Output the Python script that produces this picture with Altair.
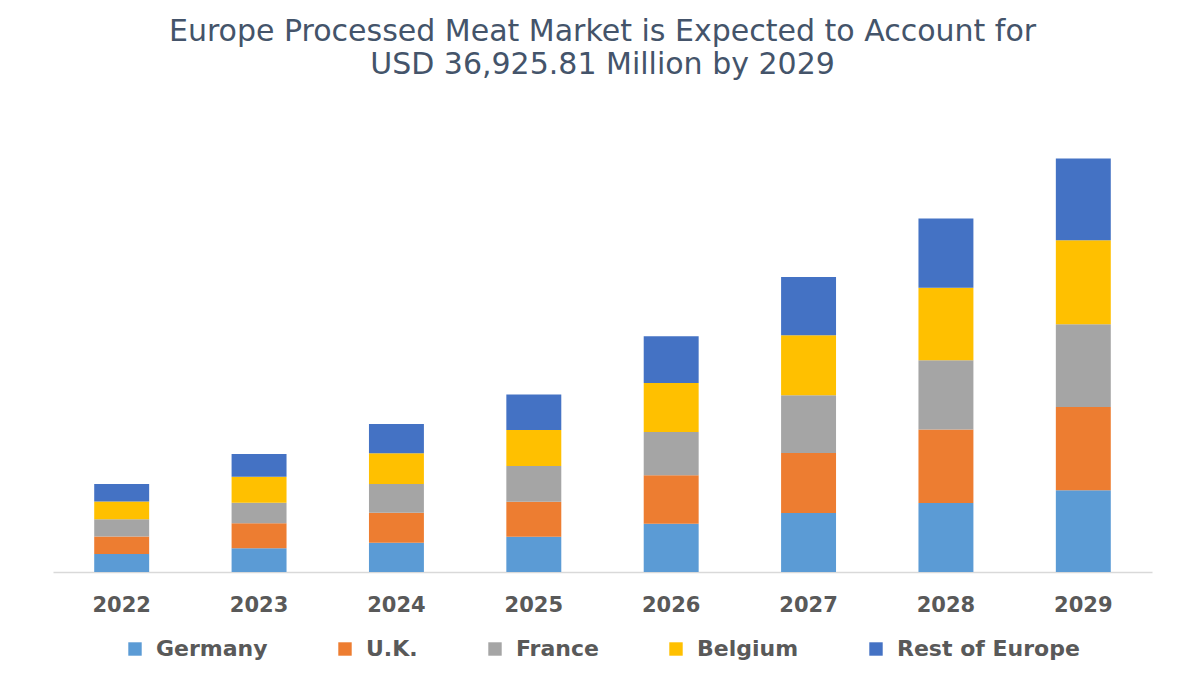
import altair as alt
import pandas as pd

years = ["2022", "2023", "2024", "2025", "2026", "2027", "2028", "2029"]
regions = ["Germany", "U.K.", "France", "Belgium", "Rest of Europe"]
germany = [1610, 2115, 2620, 3155, 4315, 5270, 6165, 7295]
uk = [1550, 2235, 2680, 3125, 4315, 5360, 6555, 7440]
france = [1555, 1840, 2565, 3190, 3870, 5155, 6190, 7385]
belgium = [1570, 2320, 2740, 3215, 4375, 5360, 6460, 7505]
rest_of_europe = [1580, 2030, 2615, 3155, 4170, 5205, 6200, 7300]
colors = ["#5B9BD5", "#ED7D31", "#A5A5A5", "#FFC000", "#4472C4"]

series = [germany, uk, france, belgium, rest_of_europe]
rows = []
for i, (name, vals) in enumerate(zip(regions, series)):
    for y, v in zip(years, vals):
        rows.append({"year": y, "region": name, "value": v, "idx": i})
df = pd.DataFrame(rows)

chart = alt.Chart(df).mark_bar().encode(
    x=alt.X("year:N", sort=years, title=None,
            scale=alt.Scale(paddingInner=0.6, paddingOuter=0.3),
            axis=alt.Axis(labelAngle=0, ticks=False, domainColor="#D9D9D9",
                          domainWidth=1.5, labelFont="DejaVu Sans",
                          labelFontWeight="bold", labelFontSize=21,
                          labelColor="#595959", labelPadding=22, grid=False)),
    y=alt.Y("value:Q", stack="zero", title=None,
            scale=alt.Scale(domain=[0, 40000], nice=False), axis=None),
    color=alt.Color("region:N", sort=regions,
                    scale=alt.Scale(domain=regions, range=colors),
                    legend=alt.Legend(title=None, orient="none", direction="horizontal",
                                      columns=5, legendX=71, legendY=514,
                                      symbolType="square", symbolSize=180,
                                      symbolStrokeWidth=0, columnPadding=66,
                                      labelOffset=10, labelFont="DejaVu Sans",
                                      labelFontWeight="bold", labelFontSize=22,
                                      labelLimit=0,
                                      labelColor="#595959", padding=0)),
    order=alt.Order("idx:Q", sort="ascending"),
).properties(
    width=1099, height=448,
    autosize=alt.AutoSizeParams(type="none"),
    padding={"left": 45, "top": 116, "right": 30, "bottom": 100},
    title=alt.TitleParams(
        text=["Europe Processed Meat Market is Expected to Account for",
              "USD 36,925.81 Million by 2029"],
        font="DejaVu Sans", fontSize=30, fontWeight="normal", color="#44546A",
        anchor="middle", lineHeight=33, offset=44),
).configure(background="white").configure_view(stroke=None)

chart.save("out.html", embed_options={"renderer": "svg", "actions": False})
